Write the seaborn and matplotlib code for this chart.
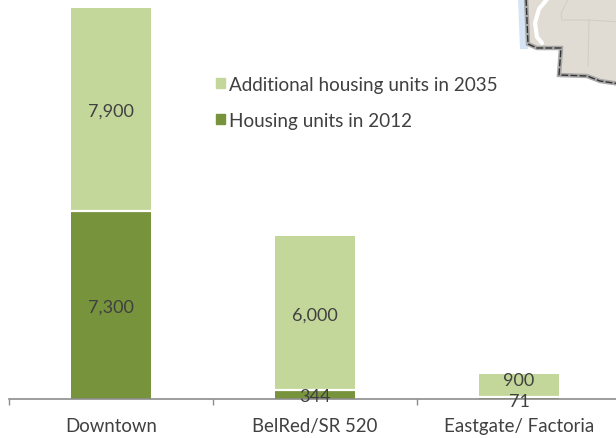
import matplotlib
matplotlib.use("Agg")
import matplotlib.pyplot as plt
from matplotlib.patches import Patch, Polygon
import pandas as pd
import seaborn as sns

areas = ["Downtown", "BelRed/SR 520", "Eastgate/ Factoria"]
units_2012 = [7300, 344, 71]
units_added = [7900, 6000, 900]
label_added = "Additional housing units in 2035"
label_2012 = "Housing units in 2012"

LIGHT = "#C4D79B"
DARK = "#77933C"
TEXT = "#404040"
AXIS = "#8C8C8C"

sns.set_theme(style="white")
plt.rcParams["font.family"] = ["Lato", "DejaVu Sans"]

df = pd.DataFrame({"area": areas, "base": units_2012, "added": units_added})
df["total"] = df["base"] + df["added"]

W, H = 616, 439
fig = plt.figure(figsize=(W / 100, H / 100), dpi=100)
ax = fig.add_axes([9 / W, (H - 400) / H, 612 / W, 399 / H])
ax.patch.set_alpha(0)

sns.barplot(data=df, x="area", y="total", color=LIGHT, saturation=1, width=0.392,
            edgecolor="none", ax=ax)
sns.barplot(data=df, x="area", y="base", color=DARK, saturation=1, width=0.392,
            edgecolor="white", linewidth=0, ax=ax)

# white separator between the stacked segments
for patch in ax.patches[len(areas):]:
    ax.plot([patch.get_x(), patch.get_x() + patch.get_width()],
            [patch.get_height()] * 2, color="white", lw=1.6, solid_capstyle="butt", zorder=3)

ax.set_xlim(-0.5, 2.5)
ax.set_ylim(0, 399 / 0.02575)
ax.set_xlabel("")
ax.set_ylabel("")
ax.set_yticks([])
for s in ["top", "left", "right"]:
    ax.spines[s].set_visible(False)
ax.spines["bottom"].set_color(AXIS)
ax.spines["bottom"].set_linewidth(1.2)
ax.spines["bottom"].set_zorder(4)
ax.set_xticks([-0.5, 0.5, 1.5, 2.5], minor=True)
ax.tick_params(axis="x", which="minor", bottom=True, length=4.5, width=1, color=AXIS)
ax.tick_params(axis="x", which="major", bottom=False, length=0, pad=13,
               labelsize=13.4, labelcolor=TEXT)

# label offsets in points: small segments are nudged off their bar, as in the source
for i, (b, a) in enumerate(zip(units_2012, units_added)):
    dy_base = -1 if b > 100 else -2
    dy_added = -1 if a > 1000 else 4
    ax.annotate(f"{b:,}", (i, b / 2), xytext=(0, dy_base), textcoords="offset points",
                ha="center", va="center", fontsize=13, color=TEXT, zorder=5)
    ax.annotate(f"{a:,}", (i, b + a / 2), xytext=(0, dy_added), textcoords="offset points",
                ha="center", va="center", fontsize=13, color=TEXT, zorder=5)

handles = [Patch(color=LIGHT, label=label_added), Patch(color=DARK, label=label_2012)]
ax.legend(handles=handles, loc="upper left", bbox_to_anchor=(0.338, 0.81),
          frameon=False, fontsize=13.6, labelcolor=TEXT, handlelength=0.48,
          handleheight=0.48, handletextpad=0.22, labelspacing=1.0,
          borderpad=0, borderaxespad=0)

# map fragment in the top-right corner (decorative, in pixel coordinates)
m = fig.add_axes([0, 0, 1, 1], zorder=6)
m.set_xlim(0, W)
m.set_ylim(H, 0)
m.axis("off")
m.add_patch(Polygon([(518, 0), (526, 0), (528, 50), (520, 50)], closed=True, fc="#D6E5F6", ec="none"))
edge = [(526, -2), (528, 45), (537, 49), (561, 49), (559, 76), (587, 77), (600, 82), (620, 85)]
m.add_patch(Polygon(edge + [(620, -2)], closed=True, fc="#E0DBD3", ec="none"))
m.plot([548, 539, 535, 537, 542], [-1, 10, 24, 38, 44], color="white", lw=3)
m.plot([568, 561, 562, 588, 620], [0, 15, 21, 21, 23], color="#D2CCC3", lw=0.7)
m.plot([589, 588], [21, 67], color="#D2CCC3", lw=0.7)
xs, ys = zip(*edge)
m.plot(xs, ys, color="#A3A3A3", lw=3.2, alpha=0.9, solid_joinstyle="miter")
m.plot(xs, ys, color="#333333", lw=1, ls=(0, (5, 1.5)))

fig.savefig("out.png", dpi=100)
